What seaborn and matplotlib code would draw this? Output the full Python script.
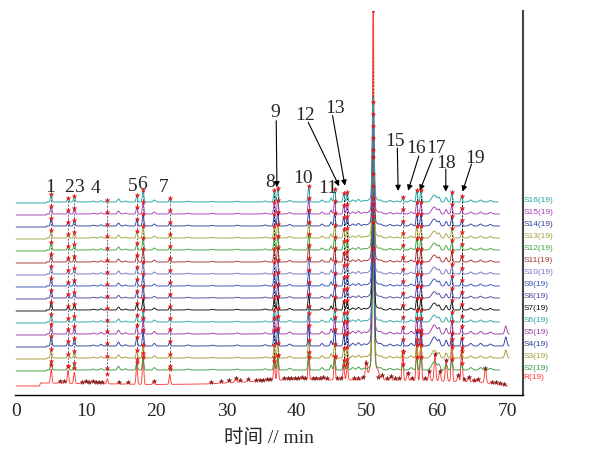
import numpy as np
import pandas as pd
import matplotlib
matplotlib.use('Agg')
import matplotlib.pyplot as plt
import seaborn as sns

sns.set_style('white')
plt.rcParams['font.family'] = ['Liberation Serif', 'Noto Sans CJK SC']

# samples from bottom to top
samples = ['R'] + ['S%d' % i for i in range(2, 17)]
colors = ['#ff3b3b', '#3c9b3c', '#a39b35', '#2d3f9e', '#9b3ca3', '#2fa3a3', '#111111',
          '#55439e', '#3551b5', '#7474c4', '#a33434', '#41a341', '#a3a341', '#3141a3',
          '#a341b3', '#21a3a3']
baselines = [12, 24, 36, 48, 60, 72, 84, 96, 108, 120, 132, 144, 156, 168, 180, 192]
t_end = [70.1, 68.9, 70.3, 70.3, 70.3, 68.9, 68.9, 68.9, 68.9, 68.9, 68.9, 68.9, 68.9, 68.9, 68.9, 68.7]

# common (matched) peaks, minutes
peak_no = ['1', '2', '3', '4', '5', '6', '7', '8', '9', '10', '11', '12', '13', '14',
           '15', '16', '17', '18', '19']
peak_t = [5.0, 7.4, 8.3, 13.0, 17.2, 18.1, 21.9, 36.8, 37.3, 41.7, 45.4, 46.7, 47.2, 50.9,
          55.1, 57.1, 57.7, 62.1, 63.5]
peak_h_s = [8, 4, 6, 2, 7, 12, 3.5, 12, 14, 16, 13, 9, 10, 100, 5, 12, 12, 10, 6]
peak_h_r = [14, 13, 11, 5, 20, 26, 10, 18, 24, 22, 22, 14, 16, 369, 28, 40, 45, 40, 32]
s_scale = [1.1, 1.1, 1.3, 1.3, 1.0, 1.0, 1.0, 1.0, 1.0, 1.05, 1.0, 1.0, 1.0, 1.0, 1.0]

# small peaks on the sample traces
minor_t = [11.0, 12.1, 14.6, 15.6, 19.7, 24.5, 28.0, 31.5, 35.5, 39.0, 43.6, 44.9, 48.0,
           48.8, 49.6, 52.0, 53.3, 54.3, 56.3, 59.6, 60.3, 61.3, 64.8, 66.2, 67.6]
minor_h = [0.8, 1.2, 3.0, 1.0, 2.0, 0.8, 0.6, 0.8, 1.0, 1.5, 2.0, 4.0, 2.0, 2.5, 1.5,
           1.5, 1.5, 1.0, 2.0, 7.0, 4.0, 4.5, 2.0, 2.0, 1.5]
minor_w = [0.15, 0.15, 0.15, 0.15, 0.15, 0.2, 0.2, 0.2, 0.2, 0.2, 0.15, 0.12, 0.2,
           0.2, 0.2, 0.2, 0.2, 0.2, 0.2, 0.35, 0.15, 0.15, 0.2, 0.2, 0.2]
minor_scale = [1.2, 1.1, 1.3, 1.3, 1.0, 1.0, 0.9, 1.0, 1.0, 1.0, 1.0, 1.0, 1.0, 1.0, 1.0]
end_peak_h = [0, 8, 9, 8, 0, 0, 0, 0, 0, 0, 0, 0, 0, 0, 0]

# unmatched peaks on the reference trace
r_minor_t = [6.2, 6.9, 9.4, 9.9, 10.4, 10.9, 11.4, 11.8, 12.3, 14.6, 15.9, 19.6, 27.8, 29.2,
             30.3, 31.3, 31.9, 33.1, 34.2, 34.7, 35.2, 35.7, 36.2, 38.2, 38.7, 39.2, 39.7,
             40.2, 40.7, 41.2, 42.3, 42.8, 43.3, 43.8, 44.3, 45.8, 46.3, 48.2, 48.8, 49.4,
             49.9, 51.6, 52.2, 52.8, 53.4, 54.0, 54.6, 55.8, 56.4, 58.3, 58.9, 59.7, 60.4,
             61.3, 63.0, 63.8, 64.5, 65.2, 65.8, 66.9, 67.8, 68.4, 69.0, 69.6]
r_minor_h = [2, 2, 2, 3, 2, 3, 2, 2, 2, 2, 2, 3, 2, 2,
             3, 4, 2, 3, 1.5, 1.5, 1.5, 1.5, 1.5, 2, 2, 2, 2,
             2, 3, 2, 2, 2, 2, 3, 2, 2, 2, 2, 2, 3,
             17, 3, 5, 2, 4, 2, 2, 8, 3, 3, 10, 27, 10,
             21, 6, 3, 5, 2, 3, 15, 2, 2, 2, 2]
r_base_t = [0, 3.3, 3.5, 20, 27, 38, 50, 60, 66, 70.1]
r_base_y = [-3, -3, 0, -1.5, -1, 3, 3, 2, 1, -3]

t = np.arange(0, 70.35, 0.02)


def gauss(x, c, h, w):
    return h * np.exp(-0.5 * ((x - c) / w) ** 2)


rows = []
apex_rows = []
for i, name in enumerate(samples):
    tt = t[t <= t_end[i]]
    if name == 'R':
        y = np.interp(tt, r_base_t, r_base_y)
        hs = peak_h_r
        for c, h in zip(r_minor_t, r_minor_h):
            y = y + gauss(tt, c, h, 0.12)
    else:
        k = i - 1
        y = np.where(tt > 4.3, 1.0, 0.0)
        hs = [h * s_scale[k] for h in peak_h_s]
        for c, h, w in zip(minor_t, minor_h, minor_w):
            y = y + gauss(tt, c, h * minor_scale[k], w)
        y = y + gauss(tt, 69.8, end_peak_h[k], 0.15)
    for c, h in zip(peak_t, hs):
        w = 0.13 if h > 90 else 0.1
        y = y + gauss(tt, c, h, w)
        if h > 90:
            y = y + gauss(tt, c, h * 0.05, 0.5)
        apex_rows.append((name, c, baselines[i] + h + (3.5 if name == 'R' else 1.0)))
    rows.append(pd.DataFrame({'sample': name, 't': tt, 'y': y + baselines[i]}))

df = pd.concat(rows, ignore_index=True)
apex = pd.DataFrame(apex_rows, columns=['sample', 't', 'y'])
r_apex = pd.DataFrame({'t': r_minor_t,
                       'y': [12 + np.interp(c, r_base_t, r_base_y) + h
                             for c, h in zip(r_minor_t, r_minor_h)]})

fig = plt.figure(figsize=(5.92, 4.52), dpi=100)
ax = fig.add_axes([0.0248, 0.1239, 0.858, 0.8496])

# dashed matching lines
for j, c in enumerate(peak_t):
    sub = apex[apex['t'] == c]
    col = '0.4' if j < 7 or j in (9, 14) else 'k'
    ax.plot([c, c], [sub['y'].min(), sub['y'].max()], ls=(0, (2, 1.5)), lw=0.7,
            color=col, zorder=1)

sns.lineplot(data=df, x='t', y='y', hue='sample', hue_order=samples,
             palette=dict(zip(samples, colors)), estimator=None, sort=False,
             legend=False, lw=0.65, ax=ax, zorder=2)

sns.scatterplot(data=r_apex, x='t', y='y', marker='*', s=12, color='#8b1a1a',
                edgecolor='#6b0f0f', linewidth=0.2, ax=ax, zorder=3)
sns.scatterplot(data=apex, x='t', y='y', marker='*', s=12, color='#ff1a1a',
                edgecolor='#c00000', linewidth=0.2, ax=ax, zorder=4)

# sample labels on the right
for i, name in enumerate(samples):
    yy = 18 if name == 'R' else baselines[i] + 3.5
    ax.text(72.35, yy, name + '(19)', color=colors[i], fontsize=6,
            family='Liberation Sans', ha='left', va='center', clip_on=False)

# peak numbers
plain_lab = ['1', '2', '3', '4', '5', '6', '7', '8', '10', '11']
plain_x = [4.84, 7.59, 8.93, 11.35, 16.57, 17.99, 21.08, 36.18, 40.93, 44.49]
plain_y = [204, 204, 204, 203, 205, 207, 204, 208.7, 212.7, 203.3]
for s, x, y in zip(plain_lab, plain_x, plain_y):
    ax.text(x, y, s, ha='center', va='baseline', fontsize=14)

arrow_lab = ['9', '12', '13', '15', '16', '17', '18', '19']
arrow_text = [(37.0, 279.3), (41.17, 276), (45.44, 283.3), (53.99, 250), (57.0, 243),
              (59.9, 243), (61.35, 227.7), (65.38, 232.7)]
arrow_tail = [(37.08, 274.3), (41.64, 272.7), (45.11, 279.3), (54.34, 247), (57.41, 239),
              (59.36, 236.7), (61.25, 226), (64.91, 231)]
arrow_head = [(37.18, 207.7), (46.05, 208.7), (46.87, 209.3), (54.46, 204), (55.88, 204.3),
              (57.55, 204.3), (61.25, 203.3), (63.63, 203.3)]
for s, p, a, b in zip(arrow_lab, arrow_text, arrow_tail, arrow_head):
    ax.text(p[0], p[1], s, ha='center', va='baseline', fontsize=14)
    ax.annotate('', xy=b, xytext=a,
                arrowprops=dict(arrowstyle='-|>', color='k', lw=0.8,
                                mutation_scale=8, shrinkA=0, shrinkB=0))

ax.set_xlim(-0.2, 72.2)
ax.set_ylim(0, 384)
ax.set_xticks(range(0, 71, 10))
ax.set_yticks([])
ax.set_xlabel('时间 // min', fontsize=14, labelpad=6)
ax.set_ylabel('')
ax.tick_params(axis='x', direction='in', length=4, width=1, labelsize=14, pad=5,
               color='k')
for side in ['left', 'top']:
    ax.spines[side].set_visible(False)
ax.spines['bottom'].set_color('k')
ax.spines['bottom'].set_linewidth(1.0)
ax.spines['right'].set_color('#444444')
ax.spines['right'].set_linewidth(1.5)

fig.savefig('out.png', dpi=100)
